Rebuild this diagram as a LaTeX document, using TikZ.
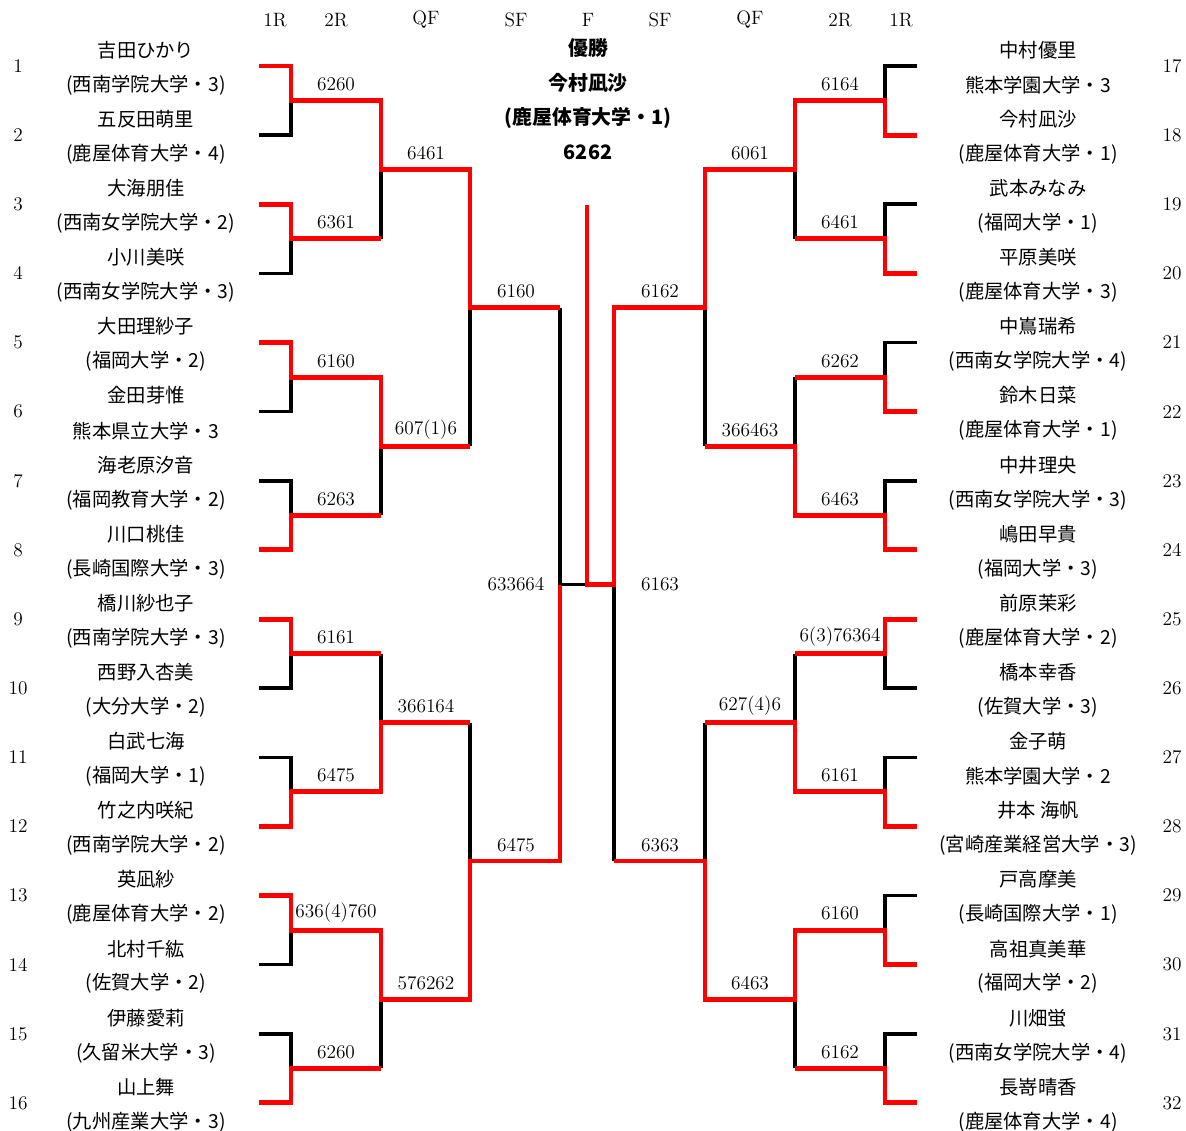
\documentclass[tikz,border=0pt]{standalone}
\usepackage{fontspec}
\usepackage{tikz}
\newfontfamily\cjk{Noto Sans CJK JP}

\tikzset{
  win/.style={draw=red, line width=2.8pt},
  lose/.style={draw=black, line width=2pt},
  score/.style={font=\fontsize{11}{13}\selectfont, inner sep=0pt},
  roundlabel/.style={font=\fontsize{11}{13}\selectfont, inner sep=0pt},
  seed/.style={font=\fontsize{11}{13}\selectfont, inner sep=0pt},
  entrant/.style={font=\cjk\fontsize{11}{13}\selectfont, inner sep=0pt},
  champ/.style={font=\cjk\bfseries\fontsize{11.3}{13}\selectfont, inner sep=0pt}
}

\begin{document}
\begin{tikzpicture}[x=0.02cm, y=-0.02cm]
    \useasboundingbox (0,0) rectangle (1186,1131);

    % Round headers
    \node[roundlabel] (hdA) at (275,20) {1R};
    \node[roundlabel] (hdB) at (336,20) {2R};
    \node[roundlabel] (hdC) at (426,20) {QF};
    \node[roundlabel] (hdD) at (516,20) {SF};
    \node[roundlabel] (hdE) at (588,20) {F};
    \node[roundlabel] (hdF) at (660,20) {SF};
    \node[roundlabel] (hdG) at (750,20) {QF};
    \node[roundlabel] (hdH) at (840,20) {2R};
    \node[roundlabel] (hdI) at (901,20) {1R};

    % Champion
    \node[champ] (cwin) at (588,48) {優勝};
    \node[champ] (cname) at (588,83) {今村凪沙};
    \node[champ] (cschool) at (588,118) {(鹿屋体育大学・1)};
    \node[champ] (cscore) at (588,152) {6262};

    % Entrants, left half
    \foreach \i/\nm/\sc in {1/吉田ひかり/(西南学院大学・3), 2/五反田萌里/(鹿屋体育大学・4),
        3/大海朋佳/(西南女学院大学・2), 4/小川美咲/(西南女学院大学・3),
        5/大田理紗子/(福岡大学・2), 6/金田芽惟/熊本県立大学・3,
        7/海老原汐音/(福岡教育大学・2), 8/川口桃佳/(長崎国際大学・3),
        9/橋川紗也子/(西南学院大学・3), 10/西野入杏美/(大分大学・2),
        11/白武七海/(福岡大学・1), 12/竹之内咲紀/(西南学院大学・2),
        13/英凪紗/(鹿屋体育大学・2), 14/北村千紘/(佐賀大学・2),
        15/伊藤愛莉/(久留米大学・3), 16/山上舞/(九州産業大学・3)} {
      \pgfmathsetmacro\yy{66+(\i-1)*69.13}
      \node[seed] (k\i) at (18,\yy) {\i};
      \node[entrant] (n\i) at (146,\yy-16) {\nm};
      \node[entrant] (u\i) at (146,\yy+19) {\sc};
      \coordinate (l\i) at (259,\yy);
    }

    % Entrants, right half
    \foreach \i/\nm/\sc in {17/中村優里/熊本学園大学・3, 18/今村凪沙/(鹿屋体育大学・1),
        19/武本みなみ/(福岡大学・1), 20/平原美咲/(鹿屋体育大学・3),
        21/中嶌瑞希/(西南女学院大学・4), 22/鈴木日菜/(鹿屋体育大学・1),
        23/中井理央/(西南女学院大学・3), 24/嶋田早貴/(福岡大学・3),
        25/前原茉彩/(鹿屋体育大学・2), 26/橋本幸香/(佐賀大学・3),
        27/金子萌/熊本学園大学・2, 28/{井本 海帆}/(宮崎産業経営大学・3),
        29/戸高摩美/(長崎国際大学・1), 30/高祖真美華/(福岡大学・2),
        31/川畑蛍/(西南女学院大学・4), 32/長嵜晴香/(鹿屋体育大学・4)} {
      \pgfmathsetmacro\yy{66+(\i-17)*69.13}
      \node[seed] (k\i) at (1172,\yy) {\i};
      \node[entrant] (n\i) at (1038,\yy-16) {\nm};
      \node[entrant] (u\i) at (1038,\yy+19) {\sc};
      \coordinate (r\i) at (917,\yy);
    }

    % Match points
    \foreach \k in {1,...,8} {
      \coordinate (a\k) at (291,{66+(2*\k-1.5)*69.13});
      \coordinate (h\k) at (885,{66+(2*\k-1.5)*69.13});
    }
    \foreach \k in {1,...,4} {
      \coordinate (b\k) at (381,{66+(4*\k-2.5)*69.13});
      \coordinate (g\k) at (795,{66+(4*\k-2.5)*69.13});
    }
    \foreach \k in {1,2} {
      \coordinate (c\k) at (470,{66+(8*\k-4.5)*69.13});
      \coordinate (f\k) at (705,{66+(8*\k-4.5)*69.13});
    }
    \coordinate (d) at (560,584.5);
    \coordinate (ctr) at (587,584.5);
    \coordinate (e) at (614,584.5);
    \coordinate (top) at (587,205);

    % Losers (black)
    \draw[lose] (l2) -| (a1);
    \draw[lose] (l4) -| (a2);
    \draw[lose] (l6) -| (a3);
    \draw[lose] (l7) -| (a4);
    \draw[lose] (l10) -| (a5);
    \draw[lose] (l11) -| (a6);
    \draw[lose] (l14) -| (a7);
    \draw[lose] (l15) -| (a8);
    \draw[lose] (a2 -| b1) -- (b1);
    \draw[lose] (a4 -| b2) -- (b2);
    \draw[lose] (a5 -| b3) -- (b3);
    \draw[lose] (a8 -| b4) -- (b4);
    \draw[lose] (b2 -| c1) -- (c1);
    \draw[lose] (b3 -| c2) -- (c2);
    \draw[lose] (c1 -| d) -- (d) -- (ctr);

    \draw[lose] (r17) -| (h1);
    \draw[lose] (r19) -| (h2);
    \draw[lose] (r21) -| (h3);
    \draw[lose] (r23) -| (h4);
    \draw[lose] (r26) -| (h5);
    \draw[lose] (r27) -| (h6);
    \draw[lose] (r29) -| (h7);
    \draw[lose] (r31) -| (h8);
    \draw[lose] (h2 -| g1) -- (g1);
    \draw[lose] (h3 -| g2) -- (g2);
    \draw[lose] (h5 -| g3) -- (g3);
    \draw[lose] (h8 -| g4) -- (g4);
    \draw[lose] (g2 -| f1) -- (f1);
    \draw[lose] (g3 -| f2) -- (f2);
    \draw[lose] (f2 -| e) -- (e);

    % Winners (red)
    \draw[win] (l1) -| (a1) -| (b1) -| (c1) -- (c1 -| d);
    \draw[win] (l3) -| (a2) -- (a2 -| b1);
    \draw[win] (l5) -| (a3) -| (b2) -- (b2 -| c1);
    \draw[win] (l8) -| (a4) -- (a4 -| b2);
    \draw[win] (l9) -| (a5) -- (a5 -| b3);
    \draw[win] (l12) -| (a6) -| (b3) -- (b3 -| c2);
    \draw[win] (l13) -| (a7) -| (b4) -| (c2) -| (d);
    \draw[win] (l16) -| (a8) -- (a8 -| b4);

    \draw[win] (r18) -| (h1) -| (g1) -| (f1) -| (e) -- (ctr) -- (top);
    \draw[win] (r20) -| (h2) -- (h2 -| g1);
    \draw[win] (r22) -| (h3) -- (h3 -| g2);
    \draw[win] (r24) -| (h4) -| (g2) -- (g2 -| f1);
    \draw[win] (r25) -| (h5) -- (h5 -| g3);
    \draw[win] (r28) -| (h6) -| (g3) -- (g3 -| f2);
    \draw[win] (r30) -| (h7) -| (g4) -| (f2) -- (f2 -| e);
    \draw[win] (r32) -| (h8) -- (h8 -| g4);

    % Scores, left half
    \node[score] (sa1) at (336,84) {6260};
    \node[score] (sa2) at (336,222) {6361};
    \node[score] (sa3) at (336,361) {6160};
    \node[score] (sa4) at (336,499) {6263};
    \node[score] (sa5) at (336,637) {6161};
    \node[score] (sa6) at (336,775) {6475};
    \node[score] (sa7) at (336,913) {636(4)760};
    \node[score] (sa8) at (336,1052) {6260};
    \node[score] (sb1) at (426,153) {6461};
    \node[score] (sb2) at (426,430) {607(1)6};
    \node[score] (sb3) at (426,706) {366164};
    \node[score] (sb4) at (426,983) {576262};
    \node[score] (sc1) at (516,291) {6160};
    \node[score] (sc2) at (516,845) {6475};
    \node[score] (sd) at (516,584) {633664};

    % Scores, right half
    \node[score] (sh1) at (840,84) {6164};
    \node[score] (sh2) at (840,222) {6461};
    \node[score] (sh3) at (840,361) {6262};
    \node[score] (sh4) at (840,499) {6463};
    \node[score] (sh5) at (840,637) {6(3)76364};
    \node[score] (sh6) at (840,775) {6161};
    \node[score] (sh7) at (840,913) {6160};
    \node[score] (sh8) at (840,1052) {6162};
    \node[score] (sg1) at (750,153) {6061};
    \node[score] (sg2) at (750,430) {366463};
    \node[score] (sg3) at (750,706) {627(4)6};
    \node[score] (sg4) at (750,983) {6463};
    \node[score] (sf1) at (660,291) {6162};
    \node[score] (sf2) at (660,845) {6363};
    \node[score] (se) at (660,584) {6163};
\end{tikzpicture}
\end{document}
